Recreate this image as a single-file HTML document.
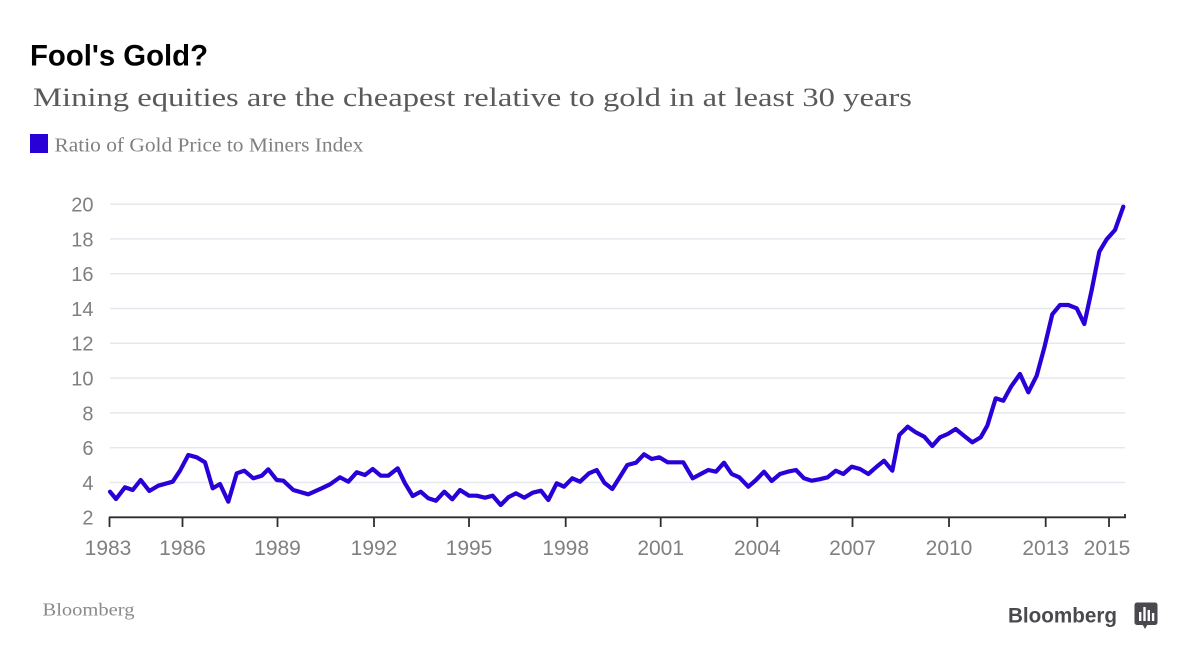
<!DOCTYPE html>
<html>
<head>
<meta charset="utf-8">
<style>
  html, body { margin: 0; padding: 0; background: #ffffff; }
  body { width: 1200px; height: 672px; overflow: hidden; }
  svg { display: block; }
  .sans { font-family: "Liberation Sans", Arial, sans-serif; }
  .serif { font-family: "Liberation Serif", "Times New Roman", serif; }
</style>
</head>
<body>
<svg width="1200" height="672" viewBox="0 0 1200 672" xmlns="http://www.w3.org/2000/svg">
  <rect x="0" y="0" width="1200" height="672" fill="#ffffff"/>

  <!-- Title -->
  <text x="30" y="65.5" class="sans" font-size="30" font-weight="bold" fill="#000000" textLength="178" lengthAdjust="spacingAndGlyphs">Fool's Gold?</text>
  <!-- Subtitle -->
  <text x="33" y="106" class="serif" font-size="26" fill="#5a5a5a" textLength="879" lengthAdjust="spacingAndGlyphs">Mining equities are the cheapest relative to gold in at least 30 years</text>
  <!-- Legend -->
  <rect x="30" y="134" width="18" height="19" fill="#2a00d8"/>
  <text x="54.5" y="151.5" class="serif" font-size="20" fill="#808080" textLength="309" lengthAdjust="spacingAndGlyphs">Ratio of Gold Price to Miners Index</text>

  <!-- Gridlines -->
  <g stroke="#e5e8ee" stroke-width="1.5">
    <line x1="110" y1="204.1" x2="1125" y2="204.1"/>
    <line x1="110" y1="238.9" x2="1125" y2="238.9"/>
    <line x1="110" y1="273.7" x2="1125" y2="273.7"/>
    <line x1="110" y1="308.5" x2="1125" y2="308.5"/>
    <line x1="110" y1="343.3" x2="1125" y2="343.3"/>
    <line x1="110" y1="378.1" x2="1125" y2="378.1"/>
    <line x1="110" y1="412.9" x2="1125" y2="412.9"/>
    <line x1="110" y1="447.7" x2="1125" y2="447.7"/>
    <line x1="110" y1="482.5" x2="1125" y2="482.5"/>
  </g>

  <!-- Y labels -->
  <g class="sans" font-size="20" fill="#808080" text-anchor="end">
    <text x="93.5" y="211.5">20</text>
    <text x="93.5" y="246.3">18</text>
    <text x="93.5" y="281.1">16</text>
    <text x="93.5" y="315.9">14</text>
    <text x="93.5" y="350.7">12</text>
    <text x="93.5" y="385.5">10</text>
    <text x="93.5" y="420.3">8</text>
    <text x="93.5" y="455.1">6</text>
    <text x="93.5" y="489.9">4</text>
    <text x="93.5" y="524.7">2</text>
  </g>

  <!-- Axis -->
  <line x1="109" y1="517.3" x2="1126" y2="517.3" stroke="#2e2e2e" stroke-width="1.8"/>
  <g stroke="#2e2e2e" stroke-width="1.8">
    <line x1="109.5" y1="517" x2="109.5" y2="527"/>
    <line x1="182.5" y1="517" x2="182.5" y2="527"/>
    <line x1="277.5" y1="517" x2="277.5" y2="527"/>
    <line x1="374" y1="517" x2="374" y2="527"/>
    <line x1="469" y1="517" x2="469" y2="527"/>
    <line x1="565.7" y1="517" x2="565.7" y2="527"/>
    <line x1="660.7" y1="517" x2="660.7" y2="527"/>
    <line x1="757.3" y1="517" x2="757.3" y2="527"/>
    <line x1="852.5" y1="517" x2="852.5" y2="527"/>
    <line x1="949" y1="517" x2="949" y2="527"/>
    <line x1="1045.7" y1="517" x2="1045.7" y2="527"/>
    <line x1="1109" y1="517" x2="1109" y2="527"/>
    <line x1="1125" y1="514" x2="1125" y2="518"/>
  </g>

  <!-- X labels -->
  <g class="sans" font-size="21" fill="#808080" text-anchor="middle">
    <text x="108" y="555">1983</text>
    <text x="182.5" y="555">1986</text>
    <text x="277.5" y="555">1989</text>
    <text x="374" y="555">1992</text>
    <text x="469" y="555">1995</text>
    <text x="565.7" y="555">1998</text>
    <text x="660.7" y="555">2001</text>
    <text x="757.3" y="555">2004</text>
    <text x="852.5" y="555">2007</text>
    <text x="949" y="555">2010</text>
    <text x="1045.7" y="555">2013</text>
    <text x="1107" y="555">2015</text>
  </g>

  <!-- Series -->
  <polyline fill="none" stroke="#2a00d8" stroke-width="4.2" stroke-linejoin="round" stroke-linecap="round"
    points="110,491.7 116,499 125,487.3 132.7,490 140.7,480 149.3,491 158.3,485.7 172.7,481.7 180,470.7 188.3,455 196.7,457.3 205,462.3 212.7,488.3 220,484 228.3,501.7 236.7,473.3 244.3,470.7 253.3,478.3 261.7,475.7 268.3,469.3 276.7,480 283.3,480.7 293.3,490 308.3,494.3 321.7,488.3 330,484.3 340,477.3 348.3,481.7 356.7,472.3 365,475 372.7,469 380.7,475.7 388.3,475.7 397.7,468.3 405,483.3 412.7,496 420.7,491.7 428.3,498.3 436,500.7 444.3,491.7 452.3,499.3 460,490 469,495.7 476.7,495.7 485,497.7 492.7,495.7 500.7,505 508.3,497.3 516,493.3 524.3,497.7 532.7,492.7 541,490.7 548.3,500 556.7,483.3 564,486.7 572.3,478.3 580,481.7 589,473.3 596.7,470 604.3,482.7 612.3,489 620,476.7 627.3,465 636,462.7 644,454.3 651.7,459 659.3,457.3 667.7,462.3 683.3,462.3 692.7,478.3 700.7,474 708.3,470 716,471.7 724,462.7 731.7,474 739.3,477.3 748.3,486.7 756,480 764,471.7 771.7,481 780,474 787.7,471.7 796,470 804,478.3 811.7,480.7 819.3,479.3 827.7,477.3 835.7,470.7 843.3,474 851.7,466.7 860,469 868.3,474 876,467.3 884,460.7 892.3,470.7 899.3,435 907.7,426.7 915.7,432.3 924.3,436.7 932.3,446 940,437.3 947.7,434 955.7,429 964,435.7 972.3,442.3 980.7,437.3 987.3,425.7 995.7,398.3 1003.3,400.7 1011,386.7 1020,374 1028.3,392.3 1036.7,375.7 1044.3,347.7 1052.3,314.3 1060,305 1068.3,305 1076.7,308.3 1084.3,324 1091.7,290 1099.3,251.7 1106.7,239.3 1115,230 1123.3,206.7"/>

  <!-- Footer -->
  <text x="42.5" y="615.5" class="serif" font-size="18" fill="#8a8a8a" textLength="92" lengthAdjust="spacingAndGlyphs">Bloomberg</text>
  <text x="1008" y="622.3" class="sans" font-size="21" font-weight="bold" fill="#4a4a4e" textLength="109" lengthAdjust="spacingAndGlyphs">Bloomberg</text>
  <rect x="1134.5" y="602.5" width="23" height="22.5" rx="2.5" fill="#4a4a4e"/>
  <polygon points="1142.5,624.5 1147.5,624.5 1145,629" fill="#4a4a4e"/>
  <g fill="#ffffff">
    <rect x="1139" y="612" width="2.4" height="9"/>
    <rect x="1143.3" y="607" width="2.4" height="14"/>
    <rect x="1147.6" y="610" width="2.4" height="11"/>
    <rect x="1151.9" y="613" width="2.4" height="8"/>
  </g>
</svg>
</body>
</html>
